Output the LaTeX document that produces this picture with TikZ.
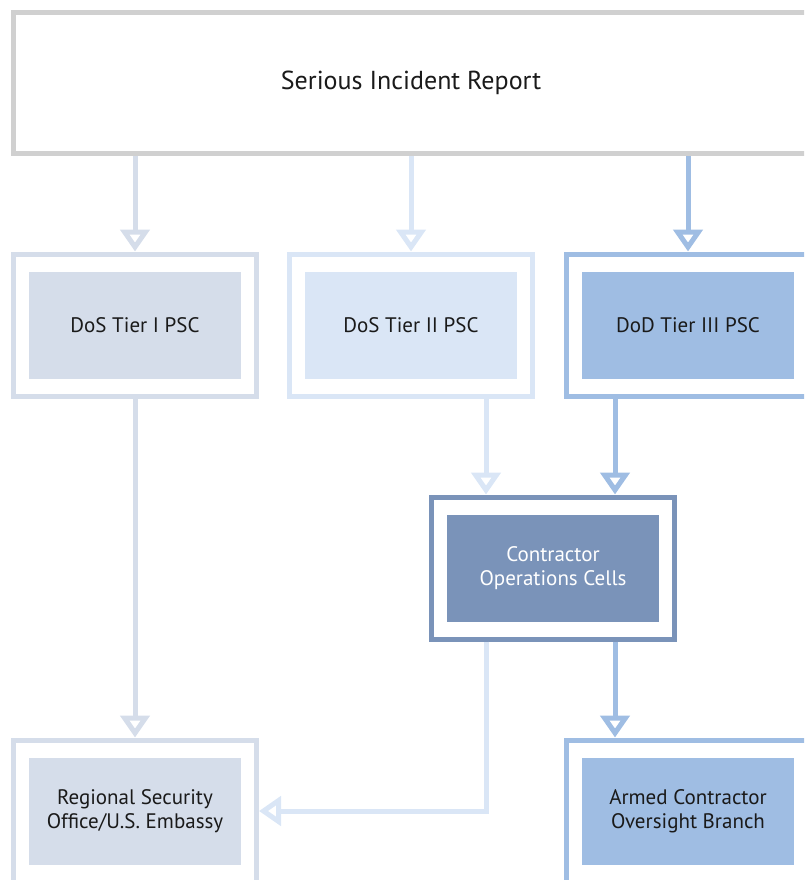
\documentclass[tikz,border=0pt]{standalone}
\usepackage{fontspec}
\setmainfont{PT Sans}
\usetikzlibrary{arrows.meta}
\definecolor{reportgray}{HTML}{D0D0D0}
\definecolor{tierone}{HTML}{D5DDEA}
\definecolor{tiertwo}{HTML}{DAE6F6}
\definecolor{tierthree}{HTML}{9FBDE3}
\definecolor{cells}{HTML}{7A93B9}
\definecolor{ink}{HTML}{1A1A1A}
\newcommand{\boxfont}{\fontsize{21}{24}\selectfont}
\newcommand{\reportfont}{\fontsize{26}{30}\selectfont}
\begin{document}
\begin{tikzpicture}
[x=1pt,y=-1pt,
  framedecorate/.style={draw=#1,line width=5pt,fill=white,minimum width=243pt,minimum height=142pt,inner sep=0pt},%
  boxdecorate/.style={fill=#1,minimum width=212pt,minimum height=107pt,inner sep=0pt,align=center,text=ink,font=\boxfont},%
  linedecorate/.style={draw=#1,line width=5pt,-{Triangle[open,length=22pt,width=29pt]}}]
\useasboundingbox (0,0) rectangle (804,880);
\clip (0,0) rectangle (804,880);
%% report box on top
\node (report) at (411,83) [framedecorate=reportgray,minimum width=795pt,minimum height=141pt,text=ink,font=\reportfont] {Serious Incident Report};
%% frames
\foreach \nodename/\x/\y/\colour in {
  dosone/135/325/tierone, dostwo/411/325/tiertwo, dodthree/688/325/tierthree,
  cells/553/568/cells, rso/135/811/tierone, acob/688/811/tierthree}
{
  \node (\nodename frame) at (\x,\y) [framedecorate=\colour] {};
}
%% filled boxes with text
\node (dosone) at (dosoneframe) [boxdecorate=tierone] {DoS Tier I PSC};
\node (dostwo) at (dostwoframe) [boxdecorate=tiertwo] {DoS Tier II PSC};
\node (dodthree) at (dodthreeframe) [boxdecorate=tierthree] {DoD Tier III PSC};
\node (cells) at (cellsframe) [boxdecorate=cells,text=white] {Contractor\\Operations Cells};
\node (rso) at (rsoframe) [boxdecorate=tierone] {Regional Security\\Office/U.S. Embassy};
\node (acob) at (acobframe) [boxdecorate=tierthree] {Armed Contractor\\Oversight Branch};
%% lanes into and out of the cells
\coordinate (lanetwo) at (486,0);
\coordinate (lanethree) at (615,0);
%% arrows
\foreach \endnode/\colour in {dosone/tierone, dostwo/tiertwo, dodthree/tierthree}
{
  \draw[linedecorate=\colour] (report.south -| \endnode frame.north) -- (\endnode frame.north);
}
\draw[linedecorate=tiertwo] (dostwoframe.south -| lanetwo) -- (cellsframe.north -| lanetwo);
\draw[linedecorate=tierthree] (dodthreeframe.south -| lanethree) -- (cellsframe.north -| lanethree);
\draw[linedecorate=tierone] (dosoneframe.south) -- (rsoframe.north);
\draw[linedecorate=tiertwo] (cellsframe.south -| lanetwo) |- (rsoframe.east);
\draw[linedecorate=tierthree] (cellsframe.south -| lanethree) -- (acobframe.north -| lanethree);
\end{tikzpicture}
\end{document}
